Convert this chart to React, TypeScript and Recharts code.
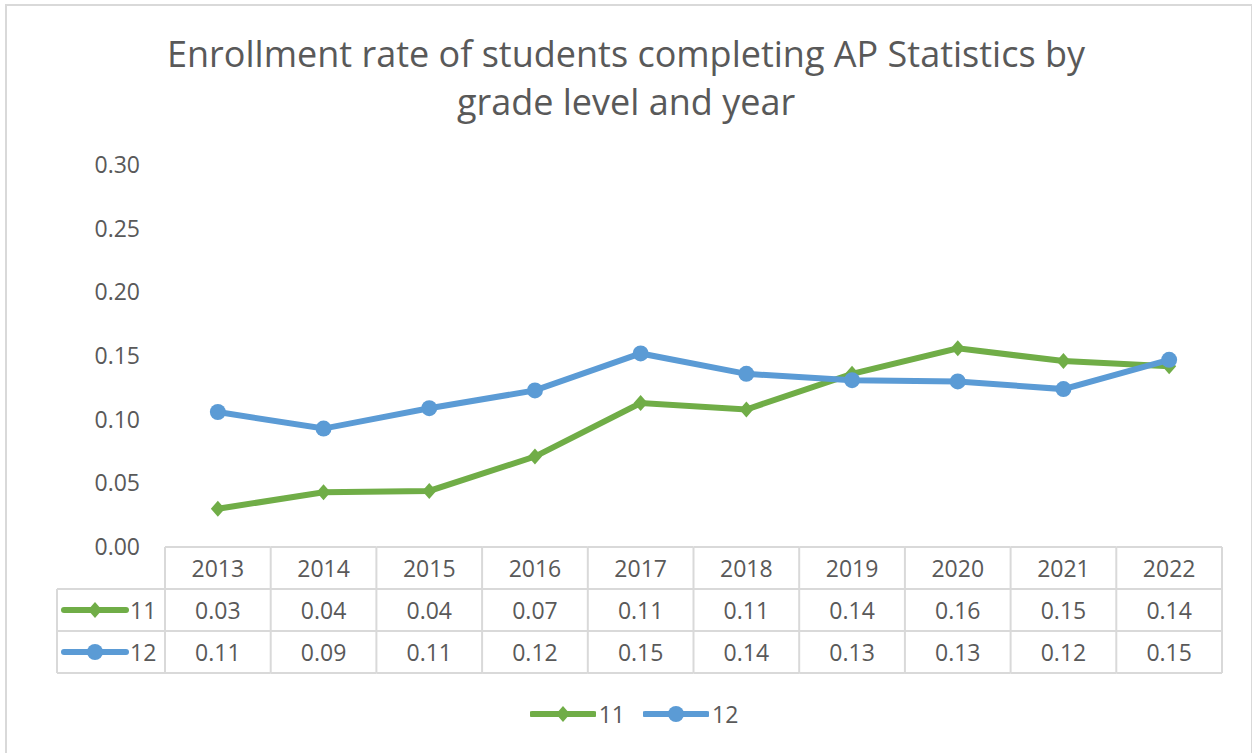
import React from 'react'
import { LineChart, Line, XAxis, YAxis } from 'recharts'

const years = ['2013', '2014', '2015', '2016', '2017', '2018', '2019', '2020', '2021', '2022']
const grade11 = [0.03, 0.043, 0.044, 0.071, 0.113, 0.108, 0.136, 0.156, 0.146, 0.142]
const grade12 = [0.106, 0.093, 0.109, 0.123, 0.152, 0.136, 0.131, 0.13, 0.124, 0.147]
const yTicks = [0, 0.05, 0.1, 0.15, 0.2, 0.25, 0.3]

const series = [
  { key: 'g11', name: '11', color: '#70ad47', shape: 'diamond', values: grade11 },
  { key: 'g12', name: '12', color: '#5b9bd5', shape: 'circle', values: grade12 },
]

const data = years.map((year, i) => ({ year, g11: grade11[i], g12: grade12[i] }))

const W = 1252
const H = 753
const PLOT_LEFT = 165
const PLOT_RIGHT = 1222
const BAND = (PLOT_RIGHT - PLOT_LEFT) / years.length
const ROW_H = 42
const GRID = '#d9d9d9'
const TEXT = '#595959'
const FONT = '"Open Sans", sans-serif'
const FS = 23

const Marker = ({ shape, color, cx, cy }: any) => {
  if (shape === 'diamond') {
    return (
      <polygon
        points={`${cx},${cy - 8} ${cx + 7},${cy} ${cx},${cy + 8} ${cx - 7},${cy}`}
        fill={color}
      />
    )
  }
  return <circle cx={cx} cy={cy} r={8} fill={color} />
}

const LegendKey = ({ s, x, y }: any) => (
  <g>
    <line x1={x} y1={y} x2={x + 62} y2={y} stroke={s.color} strokeWidth={6} strokeLinecap="round" />
    <Marker shape={s.shape} color={s.color} cx={x + 31} cy={y} />
  </g>
)

// each x tick draws one column of the data table
const TableTick = (props: any) => {
  const { x, y, index, payload } = props
  const i = index ?? payload.index
  const l = x - BAND / 2
  const r = x + BAND / 2
  const lineProps = { stroke: GRID, strokeWidth: 2 }
  return (
    <g fontFamily={FONT} fontSize={FS} fill={TEXT}>
      {[0, 1, 2, 3].map((k) => (
        <line key={k} x1={l} x2={r} y1={y + k * ROW_H} y2={y + k * ROW_H} {...lineProps} />
      ))}
      <line x1={l} x2={l} y1={y} y2={y + 3 * ROW_H} {...lineProps} />
      {i === years.length - 1 && <line x1={r} x2={r} y1={y} y2={y + 3 * ROW_H} {...lineProps} />}
      <text x={x} y={y + ROW_H / 2} textAnchor="middle" dominantBaseline="central" fill={TEXT}>
        {payload.value}
      </text>
      {series.map((s, k) => (
        <text key={s.key} x={x} y={y + ROW_H * (k + 1.5)} textAnchor="middle" dominantBaseline="central" fill={TEXT}>
          {s.values[i].toFixed(2)}
        </text>
      ))}
      {i === 0 && (
        <g>
          {[1, 2, 3].map((k) => (
            <line key={k} x1={57} x2={l} y1={y + k * ROW_H} y2={y + k * ROW_H} {...lineProps} />
          ))}
          <line x1={57} x2={57} y1={y + ROW_H} y2={y + 3 * ROW_H} {...lineProps} />
          {series.map((s, k) => (
            <g key={s.key}>
              <LegendKey s={s} x={64} y={y + ROW_H * (k + 1.5)} />
              <text x={130} y={y + ROW_H * (k + 1.5)} dominantBaseline="central" fill={TEXT}>
                {s.name}
              </text>
            </g>
          ))}
        </g>
      )}
    </g>
  )
}

export default function App() {
  return (
    <div style={{ position: 'absolute', left: 0, top: 0, width: W, height: H, overflow: 'hidden', background: '#fff' }}>
      <div
        style={{
          position: 'absolute',
          left: 5,
          top: 4,
          width: 1244,
          height: 780,
          border: `2px solid ${GRID}`,
        }}
      />
      <div
        style={{
          position: 'absolute',
          left: 0,
          top: 30,
          width: W,
          textAlign: 'center',
          fontFamily: FONT,
          fontSize: 36,
          lineHeight: '48px',
          color: TEXT,
        }}
      >
        Enrollment rate of students completing AP Statistics by
        <br />
        grade level and year
      </div>
      <div style={{ position: 'absolute', left: 0, top: 0 }}>
        <LineChart width={W} height={H} data={data} margin={{ top: 165, right: W - PLOT_RIGHT, bottom: 76, left: 65 }}>
          <XAxis
            dataKey="year"
            height={130}
            padding={{ left: BAND / 2, right: BAND / 2 }}
            axisLine={false}
            tickLine={false}
            tickSize={0}
            tickMargin={0}
            interval={0}
            tick={<TableTick />}
          />
          <YAxis
            width={100}
            domain={[0, 0.3]}
            ticks={yTicks}
            tickFormatter={(v: number) => v.toFixed(2)}
            axisLine={false}
            tickLine={false}
            tickSize={0}
            tickMargin={25}
            tick={{ fill: TEXT, fontSize: FS, fontFamily: FONT }}
          />
          {series.map((s) => (
            <Line
              key={s.key}
              dataKey={s.key}
              name={s.name}
              type="linear"
              stroke={s.color}
              strokeWidth={6}
              isAnimationActive={false}
              dot={(p: any) => <Marker key={p.index} shape={s.shape} color={s.color} cx={p.cx} cy={p.cy} />}
              activeDot={false}
            />
          ))}
        </LineChart>
      </div>
      <div
        style={{
          position: 'absolute',
          left: 8,
          top: 696,
          width: W,
          display: 'flex',
          justifyContent: 'center',
          gap: 18,
          fontFamily: FONT,
          fontSize: FS,
          color: TEXT,
        }}
      >
        {series.map((s) => (
          <div key={s.key} style={{ display: 'flex', alignItems: 'center', gap: 3 }}>
            <svg width={66} height={36}>
              <LegendKey s={s} x={2} y={18} />
            </svg>
            <span>{s.name}</span>
          </div>
        ))}
      </div>
    </div>
  )
}
